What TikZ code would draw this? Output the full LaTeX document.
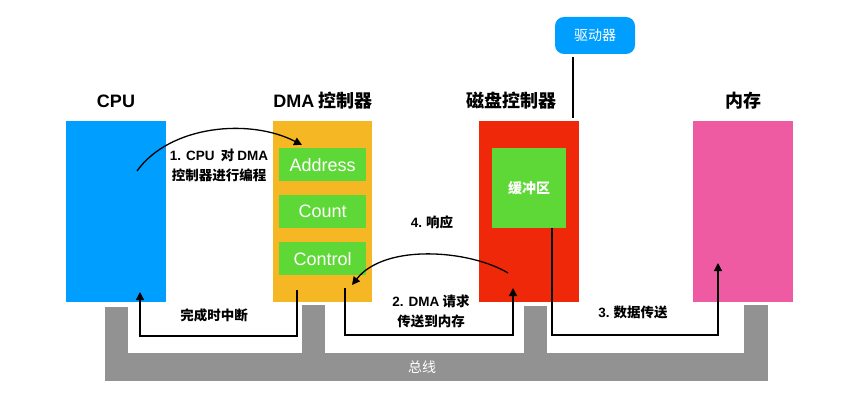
\documentclass[tikz,border=0pt]{standalone}
\usepackage{fontspec}
\setmainfont{Noto Sans CJK SC}
\newfontfamily\lat{Liberation Sans}
\usetikzlibrary{arrows.meta}
\definecolor{cpublue}{RGB}{0,158,255}
\definecolor{dmaorange}{RGB}{245,183,35}
\definecolor{reggreen}{RGB}{94,216,54}
\definecolor{diskred}{RGB}{238,40,8}
\definecolor{mempink}{RGB}{238,91,162}
\definecolor{busgray}{RGB}{146,146,146}
\begin{document}
\begin{tikzpicture}[x=1pt,y=-1pt,
  blk/.style={inner sep=0pt, anchor=north west},
  title/.style={font=\fontsize{18}{20}\selectfont\bfseries, text=black},
  regbox/.style={blk, fill=reggreen, minimum width=87pt, minimum height=33pt, text=white, font=\fontsize{18}{20}\selectfont\lat},
  lbl/.style={font=\fontsize{13.5}{20}\selectfont\bfseries, align=center, text=black},
  arr/.style={line width=1.3pt, -{Triangle[length=8pt,width=8pt]}},
  ln/.style={line width=1.3pt}]
\useasboundingbox (0,0) rectangle (844,401);
% bus
\filldraw[busgray] (105,307) -- (127,307) -- (127,353) -- (302,353) -- (302,305) -- (324,305) -- (324,353)
  -- (524,353) -- (524,306) -- (546,306) -- (546,353) -- (744,353) -- (744,305) -- (767,305)
  -- (767,380) -- (105,380) -- cycle;
\node[font=\fontsize{14}{16}\selectfont, text=white] (bus) at (422,367) {总线};
% boxes
\node[blk, fill=cpublue, minimum width=100pt, minimum height=181pt] (cpu) at (66,121) {};
\node[blk, fill=dmaorange, minimum width=99pt, minimum height=181pt] (dma) at (273,121) {};
\node[blk, fill=diskred, minimum width=100pt, minimum height=181pt] (disk) at (479,121) {};
\node[blk, fill=mempink, minimum width=100pt, minimum height=181pt] (mem) at (693,121) {};
\node[regbox] (addr) at (279,148) {Address};
\node[regbox] (count) at (279,195) {Count};
\node[regbox] (ctrl) at (279,242) {Control};
\node[blk, fill=reggreen, minimum width=74pt, minimum height=80pt, text=white,
  font=\fontsize{14}{16}\selectfont\bfseries] (buf) at (492,148) {缓冲区};
\node[fill=cpublue, rounded corners=9pt, minimum width=80pt, minimum height=37pt, inner sep=0pt,
  text=white, font=\fontsize{14}{16}\selectfont] (drv) at (595,35.5) {驱动器};
% titles
\node[title] (tcpu) at (116,101) {\lat\bfseries CPU};
\node[title] (tdma) at (323,101) {{\lat\bfseries DMA} 控制器};
\node[title] (tdisk) at (511,101) {磁盘控制器};
\node[title] (tmem) at (743,101) {内存};
% driver link
\coordinate (drvlink) at (573,118);
\draw[ln] (drv.south -| drvlink) ++(0,3) -- (drvlink);
% endpoints
\coordinate (c1s) at (137,171);
\coordinate (c1e) at (302,145);
\coordinate (irqS) at (297,290);
\coordinate (irqE) at (140,292);
\coordinate (reqS) at (345,288);
\coordinate (reqE) at (513,288);
\coordinate (ackS) at (508,273);
\coordinate (ackE) at (352,285);
\coordinate (datS) at (552,228);
\coordinate (datE) at (718,263);
% 1
\draw[arr] (c1s) .. controls (170,125) and (250,118) .. (c1e);
\node[lbl] (l1) at (219,165) {{\lat\bfseries 1. CPU} \ 对 {\lat\bfseries DMA}\\控制器进行编程};
% interrupt
\draw[arr] (irqS) -- (297,336) -| (irqE);
\node[lbl] (lirq) at (214,315) {完成时中断};
% 2
\draw[arr] (reqS) -- (345,335) -| (reqE);
\node[lbl] (l2) at (431,311) {{\lat\bfseries 2. DMA} 请求\\传送到内存};
% 4
\draw[arr] (ackS) .. controls (470,250) and (385,243) .. (ackE);
\node[lbl] (l4) at (432,222) {{\lat\bfseries 4.} 响应};
% 3
\draw[arr] (datS) -- (552,335) -| (datE);
\node[lbl] (l3) at (633,312) {{\lat\bfseries 3.} 数据传送};
\end{tikzpicture}
\end{document}
